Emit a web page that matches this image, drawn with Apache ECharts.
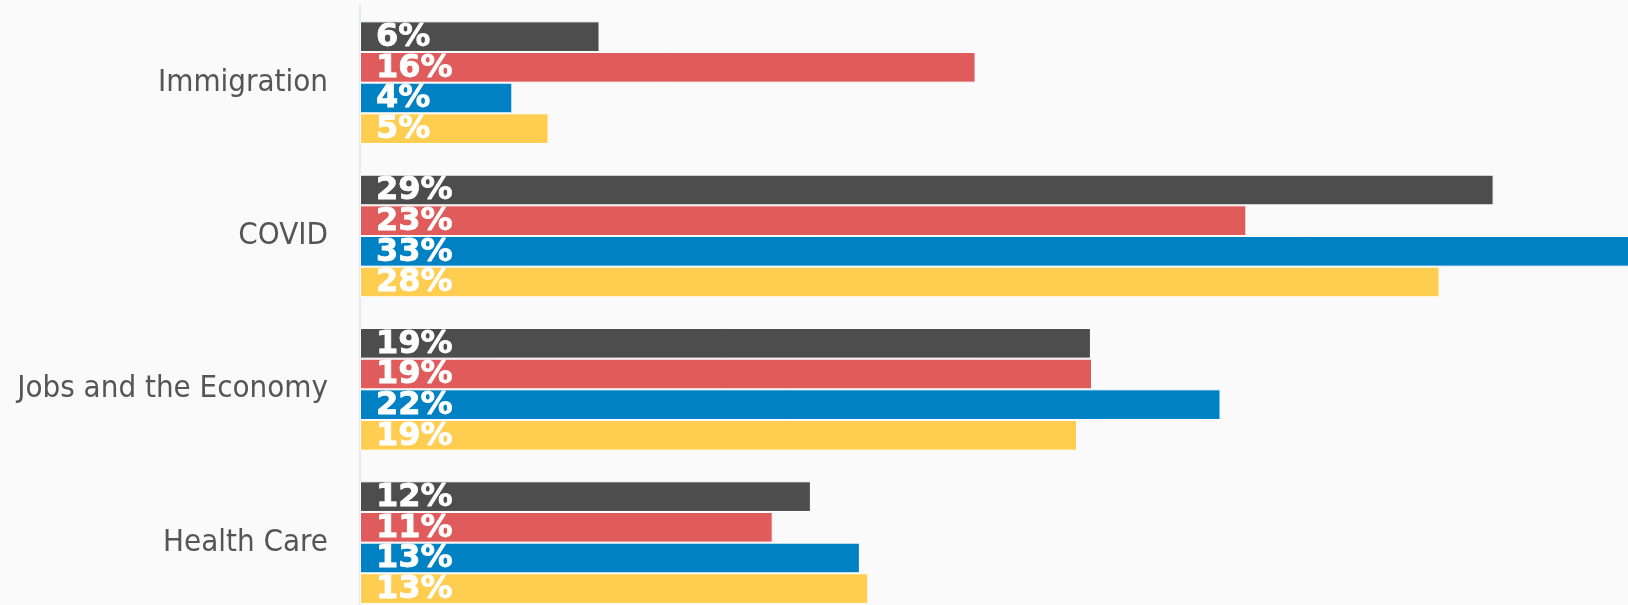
<!DOCTYPE html>
<html>
<head>
<meta charset="utf-8">
<script src="https://cdn.jsdelivr.net/npm/echarts@6/dist/echarts.min.js"></script>
<style>
  html, body { margin: 0; padding: 0; background: #fafafa; }
  #chart { width: 1628px; height: 605px; }
</style>
</head>
<body>
<div id="chart"></div>
<script>
// Categories, top to bottom
const categories = ['Immigration', 'COVID', 'Jobs and the Economy', 'Health Care'];

// Series values (percent)
const series1Values = [6.21, 29.39, 18.95, 11.69];
const series2Values = [15.96, 22.98, 18.98, 10.70];
const series3Values = [3.95, 33.3, 22.31, 12.96];
const series4Values = [4.89, 27.99, 18.59, 13.18];

// Value labels as printed on the bars
const series1Labels = ['6%', '29%', '19%', '12%'];
const series2Labels = ['16%', '23%', '19%', '11%'];
const series3Labels = ['4%', '33%', '22%', '13%'];
const series4Labels = ['5%', '28%', '19%', '13%'];

const seriesNames = ['Series 1', 'Series 2', 'Series 3', 'Series 4'];
const seriesColors = ['#4d4d4d', '#e05b5b', '#0081c4', '#ffcd50'];

const allValues = [series1Values, series2Values, series3Values, series4Values];
const allLabels = [series1Labels, series2Labels, series3Labels, series4Labels];

const chart = echarts.init(document.getElementById('chart'), null, { renderer: 'canvas' });

const option = {
  backgroundColor: '#fafafa',
  animation: false,
  grid: { left: 360, top: 6, width: 1350, height: 613.3, outerBoundsMode: 'none', containLabel: false },
  xAxis: {
    type: 'value', min: 0, max: 35,
    show: false,
    splitLine: { show: false }
  },
  yAxis: {
    type: 'category',
    inverse: true,
    data: categories,
    axisTick: { show: false },
    axisLine: { show: true, lineStyle: { color: '#e3e9f5', width: 2 } },
    axisLabel: {
      margin: 32,
      color: '#555555',
      fontFamily: 'DejaVu Sans Condensed',
      fontSize: 31
    }
  },
  series: allValues.map((vals, i) => ({
    name: seriesNames[i],
    type: 'bar',
    data: vals,
    barGap: '0%',
    barCategoryGap: '20%',
    itemStyle: { color: seriesColors[i], borderColor: '#ffffff', borderWidth: 1 },
    label: {
      show: true,
      position: 'insideLeft',
      distance: 16,
      offset: [0, 1],
      color: '#ffffff',
      fontFamily: 'DejaVu Sans',
      fontWeight: 'bold',
      fontSize: 32,
      textBorderColor: '#ffffff',
      textBorderWidth: 0.8,
      formatter: (p) => allLabels[i][p.dataIndex]
    }
  }))
};
chart.setOption(option);
</script>
</body>
</html>
